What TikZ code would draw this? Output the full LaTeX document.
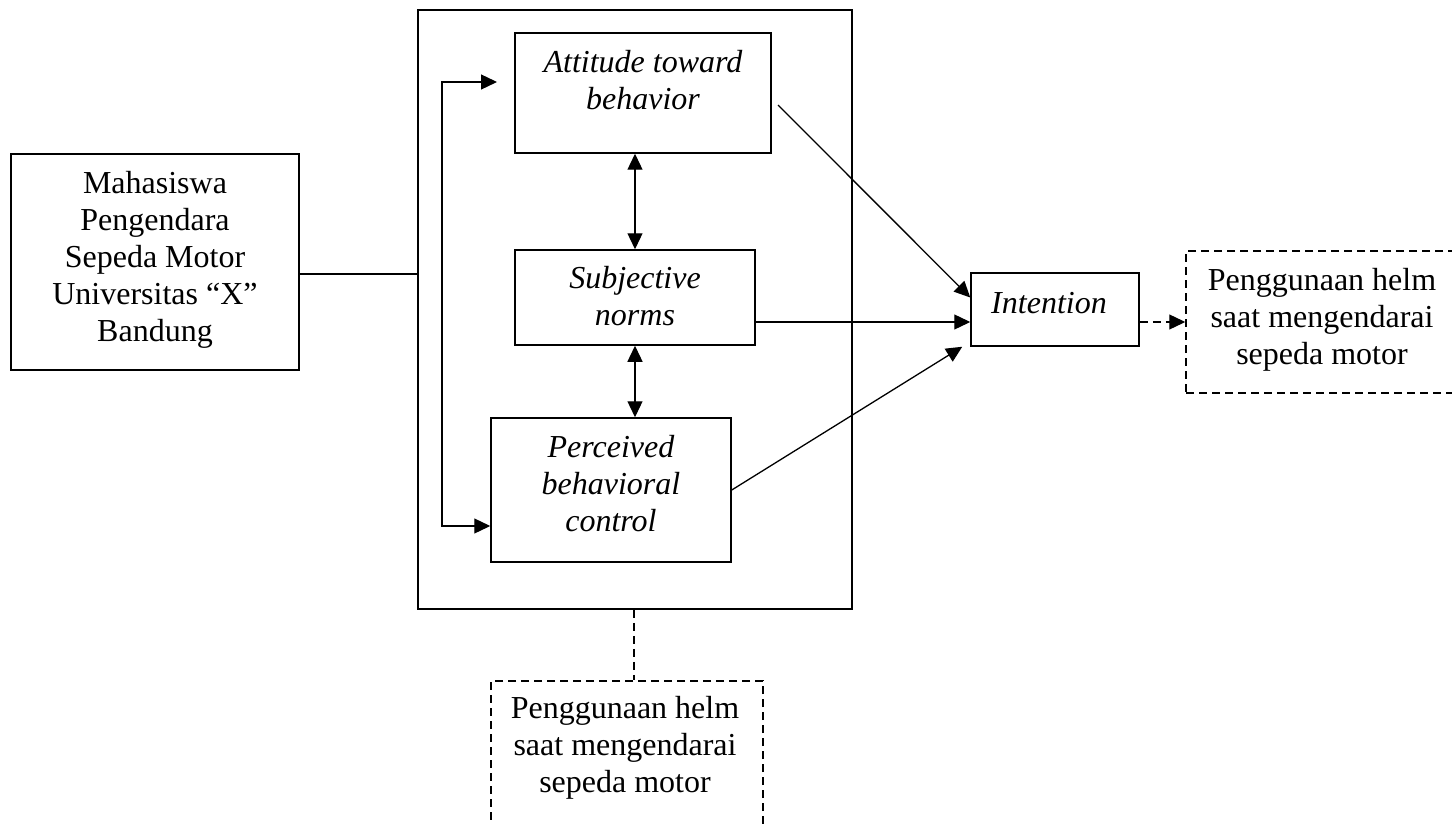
\documentclass[tikz,border=0pt]{standalone}
\usepackage{fontspec}
\setmainfont{Liberation Serif}
\usetikzlibrary{arrows.meta}
\begin{document}
\begin{tikzpicture}[x=1pt,y=-1pt,
  box/.style={draw,line width=1.5pt,inner sep=0pt,rectangle},
  dbox/.style={draw,line width=1.5pt,inner sep=0pt,rectangle,dash pattern=on 8pt off 5pt},
  txt/.style={inner sep=0pt,align=center,anchor=base,font=\fontsize{32}{37}\selectfont},
  itxt/.style={txt,font=\fontsize{32}{37}\selectfont\itshape},
  con/.style={line width=1.3pt},
  arr/.style={con,-{Triangle[length=16pt,width=15pt]}},
  dbl/.style={con,{Triangle[length=16pt,width=15pt]}-{Triangle[length=16pt,width=15pt]}},
  darr/.style={con,dash pattern=on 8pt off 5pt,-{Triangle[length=16pt,width=15pt]}}]
\useasboundingbox (0,0) rectangle (1452,824);
\clip (0,0) rectangle (1452,824);
% boxes
\node[box,minimum width=288pt,minimum height=216pt] (mhs) at (155,262) {};
\node[box,minimum width=434pt,minimum height=599pt] (big) at (635,309.5) {};
\node[box,minimum width=256pt,minimum height=120pt] (att) at (643,93) {};
\node[box,minimum width=240pt,minimum height=95pt] (sub) at (635,297.5) {};
\node[box,minimum width=240pt,minimum height=144pt] (per) at (611,490) {};
\node[box,minimum width=168pt,minimum height=73pt] (int) at (1055,309.5) {};
\node[dbox,minimum width=272pt,minimum height=142pt] (rb) at (1322,322) {};
\node[dbox,minimum width=272pt,minimum height=170pt] (bb) at (627,766) {};
% texts (anchor base = baseline of last line)
\node[txt] (tmhs) at (155,341) {Mahasiswa\\Pengendara\\Sepeda Motor\\Universitas “X”\\Bandung};
\node[itxt] (tatt) at (643,110) {Attitude toward\\behavior};
\node[itxt] (tsub) at (635,325) {Subjective\\norms};
\node[itxt] (tper) at (611,531) {Perceived\\behavioral\\control};
\node[itxt] (tint) at (1049,313) {Intention};
\node[txt] (trb) at (1322,364) {Penggunaan helm\\saat mengendarai\\sepeda motor};
\node[txt] (tbb) at (625,792) {Penggunaan helm\\saat mengendarai\\sepeda motor};
% helper coordinates
\coordinate (ymhs) at (0,274);
\coordinate (xbr) at (442,0);
\coordinate (brtop) at (497,82);
\coordinate (ybrb) at (0,526);
\coordinate (xv) at (635,0);
\coordinate (a1) at (778,105);
\coordinate (ysub) at (0,322);
\coordinate (xbb) at (634,0);
% connectors
\draw[con] (mhs.east |- ymhs) -- (big.west |- ymhs);
\draw[dbl] (brtop) -- (xbr |- brtop) -- (xbr |- ybrb) -- (per.west |- ybrb);
\draw[dbl] (att.south -| xv) -- (sub.north -| xv);
\draw[dbl] (sub.south -| xv) -- (per.north -| xv);
\draw[arr] (a1) -- ([yshift=12pt]int.west);
\draw[arr] (sub.east |- ysub) -- (int.west |- ysub);
\draw[arr] (per.east) -- ([xshift=-8pt]int.south west);
\draw[darr] (int.east |- ysub) -- (rb.west |- ysub);
\draw[con,dash pattern=on 8pt off 5pt] (big.south -| xbb) -- (bb.north -| xbb);
\end{tikzpicture}
\end{document}
